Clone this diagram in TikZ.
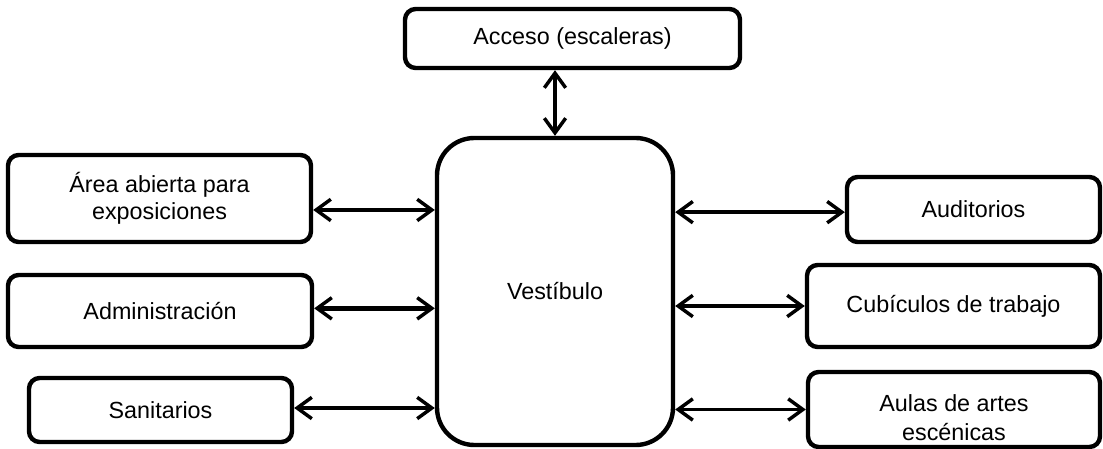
\documentclass[tikz,border=0pt]{standalone}
\usepackage{fontspec}
\setmainfont{Liberation Sans}
\usetikzlibrary{arrows.meta}
\begin{document}
\begin{tikzpicture}[x=0.75pt,y=-0.75pt,
  box/.style={draw,line width=3.3pt,rounded corners=8pt,align=center,inner sep=0pt,
    font=\fontsize{17.5}{20}\selectfont},
  bigbox/.style={box,rounded corners=28pt},
  arr/.style={line width=2.6pt,{Straight Barb[length=11pt,width=16pt,line width=2.6pt]}-{Straight Barb[length=11pt,width=16pt,line width=2.6pt]}},
  arrthick/.style={arr,line width=3.6pt}]
\useasboundingbox (0,0) rectangle (1103,449);
\node[box,minimum width=251.25pt,minimum height=44.25pt] (acc) at (572.5,38.5) {Acceso (escaleras)};
\node[bigbox,minimum width=177pt,minimum height=230.25pt] (ves) at (555,291.5) {Vestíbulo};
\node[box,minimum width=227.25pt,minimum height=65.25pt] (area) at (159.5,198.5) {Área abierta para\\exposiciones};
\node[box,minimum width=228pt,minimum height=54pt] (adm) at (160,311) {Administración};
\node[box,minimum width=197.25pt,minimum height=48pt] (san) at (160.5,410) {Sanitarios};
\node[box,minimum width=189.75pt,minimum height=48.75pt] (aud) at (973.5,209.5) {Auditorios};
\node[box,minimum width=219.75pt,minimum height=61.5pt] (cub) at (953.5,306) {Cubículos de trabajo};
\node[box,minimum width=219pt,minimum height=56.25pt] (aul) at (954,409.5) {};
\node[align=center,inner sep=0pt,font=\fontsize{17.5}{22}\selectfont] (aultxt) at ([yshift=-6pt]aul.center) {Aulas de artes\\escénicas};
\draw[arrthick] (ves.north) -- (ves.north |- acc.south);
\draw[arr] ([yshift=-8.6pt]area.east) -- ([yshift=-8.6pt]area.east -| ves.west);
\draw[arrthick] ([yshift=2pt]adm.east) -- ([yshift=2pt]adm.east -| ves.west);
\draw[arr] ([yshift=1.5pt]san.east) -- ([yshift=1.5pt]san.east -| ves.west);
\draw[arr] ([yshift=-2pt]aud.west -| ves.east) -- ([yshift=-2pt]aud.west);
\draw[arrthick] (cub.west -| ves.east) -- (cub.west);
\draw[arr] (aul.west -| ves.east) -- (aul.west);
\end{tikzpicture}
\end{document}
